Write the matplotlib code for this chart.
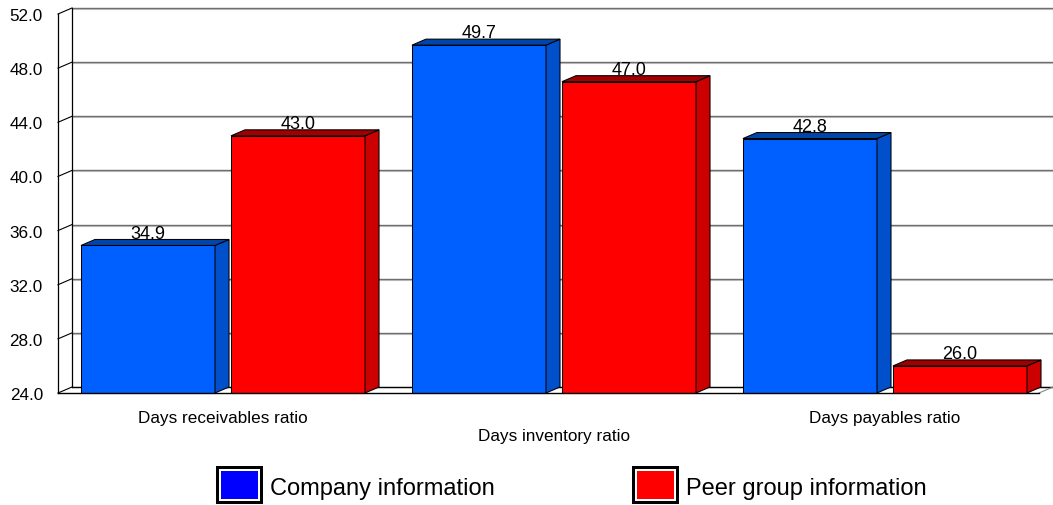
import matplotlib
matplotlib.use("Agg")
import matplotlib.pyplot as plt
from matplotlib.patches import Polygon, Rectangle

plt.rcParams['font.family'] = ['Liberation Sans', 'DejaVu Sans']

# ---- data ----
categories = ["Days receivables ratio", "Days inventory ratio", "Days payables ratio"]
company = [34.9, 49.7, 42.8]
peer = [43.0, 47.0, 26.0]
series_names = ["Company information", "Peer group information"]
y_ticks = [24, 28, 32, 36, 40, 44, 48, 52]

# ---- styling ----
front_cols = ["#0060FF", "#FF0000"]
side_cols = ["#0050CC", "#CC0000"]
top_cols = ["#0046AA", "#A00000"]
legend_cols = ["#0000FF", "#FF0000"]

W, H, DPI = 1053, 506, 100
fig = plt.figure(figsize=(W / DPI, H / DPI), dpi=DPI)
ax = fig.add_axes([58 / W, 112 / H, 981 / W, 379 / H])

ymin, ymax = y_ticks[0], y_ticks[-1]
x0, x1 = -0.4985, 2.4653
ax.set_xlim(x0, x1)
ax.set_ylim(ymin, ymax)
for s in ax.spines.values():
    s.set_visible(False)
ax.set_xticks([])
ax.set_yticks(y_ticks)
ax.set_yticklabels([f"{t:.1f}" for t in y_ticks], fontsize=12.3)
ax.tick_params(axis='y', length=0, pad=10.8)

# depth offset (14 px right, 6 px up) expressed in data units
inv = ax.transData.inverted()
p0 = ax.transData.transform((0, ymin))
dx, dy = inv.transform(p0 + [14, 6]) - [0, ymin]
_, dy1 = inv.transform(p0 + [0, 1]) - [0, ymin]

# back wall grid lines (etched look: dark line with light line below)
for t in y_ticks:
    ax.plot([x0 + dx, x1 + dx], [t + dy, t + dy], color="#6E6E6E", lw=1.0,
            clip_on=False, zorder=0.6, solid_capstyle='butt')
    if t != ymin:
        ax.plot([x0 + dx, x1 + dx], [t + dy - dy1, t + dy - dy1], color="#C8C8C8",
                lw=0.8, clip_on=False, zorder=0.5, solid_capstyle='butt')
    # connectors from front axis to back wall
    ax.plot([x0, x0 + dx], [t, t + dy], color="black", lw=0.8, clip_on=False, zorder=0.7)

# left axis (front) and back wall edge
ax.plot([x0, x0], [ymin, ymax], color="black", lw=0.9, clip_on=False, zorder=0.7)
ax.plot([x0 + dx, x0 + dx], [ymin + dy, ymax + dy], color="black", lw=0.9,
        clip_on=False, zorder=0.7)
# floor
ax.plot([x0 + dx, x1 + dx], [ymin + dy, ymin + dy], color="black", lw=0.9,
        clip_on=False, zorder=0.7)
ax.plot([x0, x1], [ymin, ymin], color="black", lw=1.0, clip_on=False, zorder=5)
ax.plot([x1, x1 + dx], [ymin, ymin + dy], color="#888888", lw=0.8, clip_on=False, zorder=0.7)

# ---- bars ----
bw = 0.405
offs = [-0.2266, 0.2266]
edge = dict(edgecolor="black", linewidth=0.75)
for si, vals in enumerate([company, peer]):
    for i, v in enumerate(vals):
        xc = i + offs[si]
        xl, xr = xc - bw / 2, xc + bw / 2
        ax.bar(xc, v - ymin, bottom=ymin, width=bw, color=front_cols[si],
               zorder=3, clip_on=False, **edge)
        ax.add_patch(Polygon([(xr, ymin), (xr + dx, ymin + dy), (xr + dx, v + dy), (xr, v)],
                             closed=True, facecolor=side_cols[si], zorder=3,
                             clip_on=False, **edge))
        ax.add_patch(Polygon([(xl, v), (xl + dx, v + dy), (xr + dx, v + dy), (xr, v)],
                             closed=True, facecolor=top_cols[si], zorder=3,
                             clip_on=False, **edge))
        ax.annotate(f"{v:.1f}", xy=(xc, v), xytext=(0, 5.6), textcoords="offset points",
                    ha="center", va="baseline", fontsize=13, zorder=6,
                    annotation_clip=False)

# category labels (middle one staggered lower)
for i, c in enumerate(categories):
    off = -20.9 if i % 2 == 0 else -33.8
    ax.annotate(c, xy=(i, ymin), xytext=(0, off), textcoords="offset points",
                ha="center", va="baseline", fontsize=12.3, annotation_clip=False)

# ---- legend ----
leg_x = [216, 632]
for k, name in enumerate(series_names):
    bx, by, bwid, bh = leg_x[k], 506 - 467 - 38, 47, 38
    fig.patches.append(Rectangle((bx / W, by / H), bwid / W, bh / H,
                                 transform=fig.transFigure, facecolor="black",
                                 edgecolor="none"))
    fig.patches.append(Rectangle(((bx + 3) / W, (by + 3) / H), (bwid - 6) / W, (bh - 6) / H,
                                 transform=fig.transFigure, facecolor="white",
                                 edgecolor="none"))
    fig.patches.append(Rectangle(((bx + 5) / W, (by + 5) / H), (bwid - 10) / W, (bh - 10) / H,
                                 transform=fig.transFigure, facecolor=legend_cols[k],
                                 edgecolor="none"))
    fig.text((bx + bwid + 7) / W, 11 / H, name, fontsize=17, ha="left", va="baseline")

fig.savefig("out.png", dpi=DPI)
